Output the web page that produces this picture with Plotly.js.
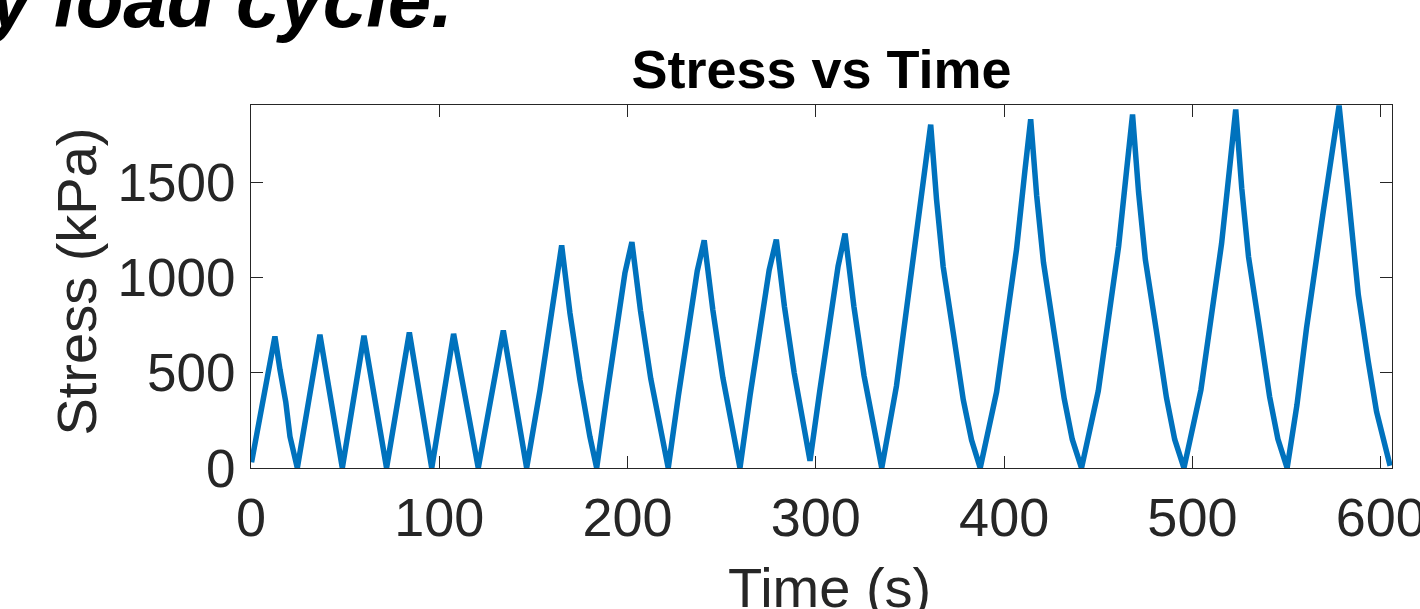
<!DOCTYPE html>
<html>
<head>
<meta charset="utf-8">
<script src="https://cdn.plot.ly/plotly-3.0.1.min.js"></script>
<style>
html,body{margin:0;padding:0;background:#fff;}
#chart{width:1420px;height:609px;}
</style>
</head>
<body>
<div id="chart"></div>
<script>
// Time (s) readings along the stress trace
var timeS = [
  0.3, 12.7, 15.4, 17.9, 18.4, 18.5, 20.7, 24.6,
  36.6, 48.5, 60.0, 72.0, 84.1, 96.0, 107.6, 120.7, 134.0, 146.4,
  153.5, 158.8, 162.5, 165.0,
  169.4, 174.7, 180.0, 183.6,
  188.9, 194.2, 198.6, 202.3,
  206.9, 212.3, 217.9, 221.6,
  227.0, 232.5, 237.0, 240.7,
  245.3, 250.6, 256.0, 259.7,
  265.1, 270.6, 275.2, 279.0,
  283.3, 288.5, 293.5, 296.9,
  302.0, 307.4, 311.8, 315.5,
  320.2, 325.6, 331.3, 335.0,
  342.8, 349.3, 355.8, 361.0,
  364.1, 367.6, 373.0, 378.3, 382.7, 387.3,
  396.0, 401.3, 406.6, 411.0, 414.1,
  417.3, 420.9, 426.5, 431.9, 436.2, 441.1,
  450.0, 455.4, 460.8, 465.2, 468.2,
  471.4, 475.0, 480.8, 486.2, 490.6, 495.5,
  504.5, 510.0, 515.5, 520.0, 523.0,
  526.2, 529.8, 535.6, 541.0, 545.4, 550.3,
  555.5, 560.6, 569.5, 574.8, 577.9,
  582.8, 588.1, 593.4, 597.8, 605.0
];
// Stress (kPa) readings
var stressKPa = [
  30, 691, 516, 370, 362, 345, 165, 0,
  700, 0, 695, 0, 712, 0, 705, 0, 723, 0,
  410, 762, 1000, 1170,
  814, 463, 165, 0,
  375, 726, 1025, 1188,
  825, 470, 170, 0,
  380, 735, 1035, 1196,
  830, 475, 170, 0,
  385, 740, 1040, 1200,
  850, 500, 200, 38,
  400, 760, 1060, 1232,
  850, 485, 175, 0,
  430, 940, 1425, 1805,
  1411, 1060, 709, 358, 147, 0,
  400, 760, 1150, 1560, 1833,
  1430, 1080, 715, 365, 150, 0,
  405, 770, 1165, 1580, 1858,
  1450, 1095, 725, 370, 150, 0,
  410, 780, 1180, 1600, 1884,
  1470, 1110, 735, 375, 152, 0,
  330, 735, 1349, 1700, 1905,
  1437, 911, 559, 296, 12
];
var xTickVals = [0, 100, 200, 300, 400, 500, 600];
var yTickVals = [0, 500, 1000, 1500];
var xTitle = 'Time (s)';
var yTitle = 'Stress (kPa)';
var chartTitle = 'Stress vs Time';
var captionText = 'y load cycle.';

var font = "'Liberation Sans', Arial, Helvetica, sans-serif";
var axColor = '#262626';

var trace = {
  x: timeS, y: stressKPa, type: 'scatter', mode: 'lines',
  line: {color: '#0072BD', width: 5.5, shape: 'linear'},
  hoverinfo: 'x+y'
};

var layout = {
  width: 1420, height: 609,
  margin: {l: 251, r: 28, t: 105, b: 141, pad: 0},
  paper_bgcolor: '#fff', plot_bgcolor: '#fff',
  showlegend: false,
  font: {family: font, color: axColor},
  title: {
    text: '<b>' + chartTitle + '</b>',
    font: {family: font, size: 54, color: '#000'},
    x: 0.5, xref: 'paper', xanchor: 'center',
    y: 1, yref: 'paper', yanchor: 'bottom', pad: {b: 17}
  },
  xaxis: {
    range: [0, 606], tickvals: xTickVals, ticktext: xTickVals.map(String),
    ticks: 'inside', ticklen: 12, tickwidth: 1, tickcolor: axColor,
    showline: true, linecolor: axColor, linewidth: 1, mirror: 'ticks',
    showgrid: false, zeroline: false,
    tickfont: {family: font, size: 54, color: axColor},
    ticklabelstandoff: 2, ticklabeloverflow: 'allow'
  },
  yaxis: {
    range: [0, 1908], tickvals: yTickVals, ticktext: yTickVals.map(String),
    ticks: 'inside', ticklen: 12, tickwidth: 1, tickcolor: axColor,
    showline: true, linecolor: axColor, linewidth: 1, mirror: 'ticks',
    showgrid: false, zeroline: false,
    tickfont: {family: font, size: 53, color: axColor},
    ticklabelstandoff: 4, ticklabeloverflow: 'allow'
  },
  annotations: [{
    text: '<b><i>' + captionText + '</i></b>',
    xref: 'paper', yref: 'paper', x: 0.1785, y: 1.163,
    xanchor: 'right', yanchor: 'bottom', showarrow: false,
    font: {family: font, size: 78, color: '#000'}
  }, {
    text: xTitle,
    xref: 'paper', yref: 'paper', x: 0.507, y: -0.238,
    xanchor: 'center', yanchor: 'top', showarrow: false,
    font: {family: font, size: 56, color: axColor}
  }, {
    text: yTitle, textangle: -90,
    xref: 'paper', yref: 'paper', x: -0.1529, y: 0.5124,
    xanchor: 'center', yanchor: 'middle', showarrow: false,
    font: {family: font, size: 56, color: axColor}
  }]
};

Plotly.newPlot('chart', [trace], layout, {displayModeBar: false, staticPlot: true});
</script>
</body>
</html>
